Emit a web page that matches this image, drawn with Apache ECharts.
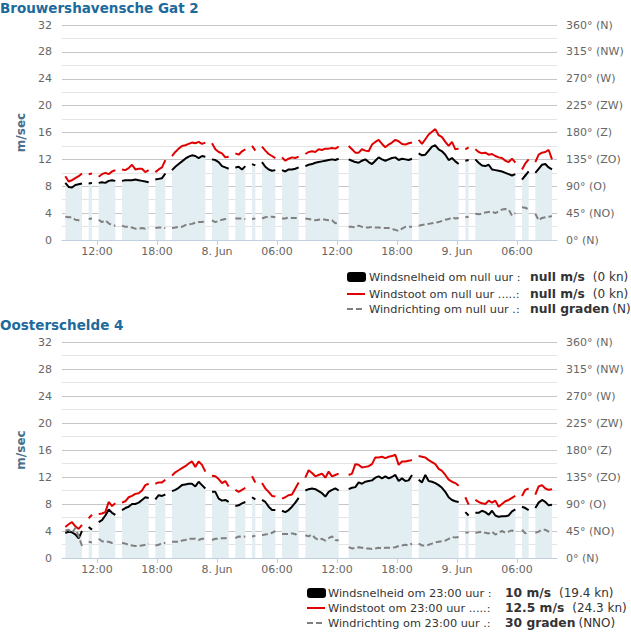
<!DOCTYPE html>
<html><head><meta charset="utf-8">
<script src="https://cdn.jsdelivr.net/npm/echarts@6/dist/echarts.min.js"></script>
<style>html,body{margin:0;padding:0;background:#fff}#c{width:631px;height:632px}</style>
</head><body><div id="c"></div>
<script>
// ---- data (hours since 7 Jun 00:00; one reading every 20 minutes, null = missing) ----
const START_HOUR = 8 + 50 / 60;   // 7 Jun 08:50
const STEP_HOUR = 1 / 3;          // 20 minutes
const X_TICKS = [12, 18, 24, 30, 36, 42, 48, 54];
const DIR_LABELS = ['0° (N)', '45° (NO)', '90° (O)', '135° (ZO)', '180° (Z)', '225° (ZW)', '270° (W)', '315° (NW)', '360° (N)'];
const STATIONS = ['Brouwershavensche Gat 2', 'Oosterschelde 4'];

// Brouwershavensche Gat 2
const BG_SPEED = [
  8.5, 7.9, 7.8, 8.2, 8.3, 8.4, null, 8.4, 8.5, null,
  8.5, 8.6, 8.5, 8.8, 8.9, 8.8, null, 8.8, 8.9, 8.9,
  8.9, 9.0, 8.9, 8.8, 8.7, 8.6, null, 9.0, 9.1, 9.2,
  9.9, null, 10.4, 10.9, 11.3, 11.7, 12.1, 12.4, 12.6, 12.5,
  12.2, 12.5, 12.4, null, 12.0, 11.9, 11.6, 11.0, 10.8, 10.6,
  null, 10.8, 10.9, 10.5, 11.0, null, 11.3, 11.1, null, 11.6,
  10.9, 10.5, 10.3, 10.4, null, 10.4, 10.2, 10.5, 10.5, 10.6,
  10.8, null, 11.0, 11.2, 11.3, 11.5, 11.6, 11.7, 11.8, 11.9,
  12.0, 11.9, 12.1, null, null, 12.0, 11.8, 11.6, 11.5, 11.8,
  12.0, 11.6, 11.3, 11.8, 12.3, 12.0, 11.8, 12.0, 12.2, 12.3,
  11.9, 12.1, 12.0, 11.9, 12.1, null, 12.9, 12.6, 12.7, 13.3,
  13.9, 14.1, 13.5, 13.2, 12.7, 11.9, 12.2, 11.7, 11.3, null,
  11.8, 11.9, null, 12.0, 11.5, 11.1, 11.0, 11.2, 10.5, 10.4,
  10.3, 10.2, 10.0, 9.8, 9.6, 9.8, null, 9.0, 9.6, 10.2,
  null, 10.0, 10.6, 11.2, 11.3, 10.8, 10.5
];
const BG_GUST = [
  9.5, 8.7, 8.9, 9.2, 9.5, 9.9, null, 9.8, 9.9, null,
  9.4, 9.8, 10.0, 9.8, 10.2, 10.4, null, 10.5, 10.4, 10.7,
  11.2, 10.5, 10.6, 10.6, 10.1, 10.4, null, 10.1, 10.5, 10.8,
  11.9, null, 12.5, 13.1, 13.6, 14.0, 14.1, 14.3, 14.5, 14.4,
  14.6, 14.3, 14.5, null, 14.4, 13.5, 13.1, 12.9, 12.3, 12.4,
  null, 12.9, 12.7, 13.2, 13.5, null, 14.0, 13.3, null, 13.9,
  13.3, 12.8, 12.5, 12.2, null, 12.3, 11.8, 12.1, 12.3, 12.2,
  12.4, null, 12.8, 13.1, 13.2, 13.1, 13.5, 13.4, 13.6, 13.6,
  13.7, 13.6, 13.9, null, null, 14.0, 13.5, 13.0, 13.0, 13.5,
  13.3, 13.2, 14.2, 14.6, 14.9, 14.3, 13.8, 14.2, 14.5, 14.9,
  14.7, 14.3, 14.2, 14.4, 14.5, null, 14.9, 14.3, 15.0, 15.7,
  16.1, 16.5, 15.6, 15.3, 14.6, 14.0, 14.6, 13.5, 13.6, null,
  13.5, 13.8, null, 13.5, 13.1, 12.9, 13.0, 12.7, 12.8, 12.5,
  12.3, 12.2, 11.8, 11.6, 12.1, 11.5, null, 10.5, 11.4, 12.0,
  null, 11.6, 12.7, 13.0, 13.1, 13.4, 12.0
];
const BG_DIR = [
  39, 38, 38, 34, 33, 30, null, 35, 36, null,
  34, 30, 33, 28, 25, 24, null, 24, 22, 22,
  21, 19, 19, 20, 19, 20, null, 20, 21, 21,
  20, null, 20, 21, 22, 22, 25, 26, 27, 29,
  30, 30, 32, null, 33, 30, 32, 34, 35, 35,
  null, 36, 36, 36, 35, null, 35, 36, null, 36,
  38, 39, 39, 38, null, 36, 36, 38, 37, 37,
  37, null, 36, 35, 34, 33, 34, 35, 34, 33,
  33, 28, 29, null, null, 22, 22, 21, 24, 22,
  21, 21, 22, 21, 21, 20, 20, 20, 18, 17,
  15, 19, 22, 22, 22, null, 24, 25, 26, 27,
  28, 29, 30, 32, 34, 35, 38, 36, 37, null,
  38, 39, null, 44, 43, 44, 46, 47, 48, 45,
  48, 51, 52, 51, 41, 45, null, 55, 54, 51,
  null, 44, 33, 37, 38, 39, 40
];

// Oosterschelde 4
const OS_SPEED = [
  3.7, 3.9, 3.8, 3.5, 2.9, 4.0, null, 4.6, 4.2, null,
  5.3, 5.6, 6.3, 7.2, 6.7, 6.4, null, 7.1, 7.4, 7.6,
  8.0, 8.0, 8.2, 8.6, 9.0, 8.9, null, 8.7, 9.3, 9.2,
  9.4, null, 9.9, 10.1, 10.4, 10.8, 10.9, 11.0, 11.0, 10.6,
  11.3, 10.8, 10.3, null, 9.8, 9.8, 8.8, 8.5, 8.6, 8.3,
  null, 7.7, 7.8, 8.1, 8.3, null, 9.0, 8.7, null, 8.6,
  8.3, 7.6, 7.1, 7.1, null, 7.0, 6.8, 7.1, 7.6, 8.2,
  8.9, null, 10.0, 10.2, 10.3, 10.2, 9.9, 9.6, 9.1, 9.8,
  10.1, 10.3, 10.0, null, null, 10.2, 10.4, 10.5, 11.2, 11.0,
  11.3, 11.4, 11.5, 11.9, 12.1, 11.8, 12.1, 11.8, 12.0, 12.3,
  11.4, 11.8, 11.4, 11.5, 12.3, null, 11.6, 11.2, 12.3, 11.4,
  11.3, 11.1, 10.8, 10.4, 9.8, 9.0, 8.6, 8.4, 8.3, null,
  6.8, 6.3, null, 6.7, 6.7, 7.0, 6.8, 6.4, 7.0, 6.3,
  6.1, 6.2, 6.2, 6.3, 6.9, 7.2, null, 7.6, 7.4, 7.1,
  null, 7.4, 8.2, 8.6, 8.3, 7.8, 7.9
];
const OS_GUST = [
  4.6, 5.0, 5.3, 4.7, 4.3, 4.9, null, 5.9, 6.4, null,
  6.5, 6.6, 6.8, 8.3, 7.7, 8.1, null, 8.2, 8.4, 9.0,
  9.2, 9.5, 9.6, 10.0, 10.8, 11.0, null, 11.0, 11.2, 11.2,
  11.6, null, 12.2, 12.7, 13.0, 13.3, 13.6, 14.0, 14.3, 13.5,
  14.3, 13.8, 12.8, null, 12.2, 12.1, 11.7, 11.1, 11.4, 10.6,
  null, 10.1, 9.8, 10.1, 10.4, null, 12.1, 11.2, null, 11.1,
  10.3, 9.8, 9.2, 9.1, null, 8.8, 9.0, 9.3, 9.4, 10.3,
  11.2, null, 11.9, 13.0, 12.6, 12.1, 12.3, 12.5, 11.9, 12.8,
  12.1, 12.3, 12.5, null, null, 12.3, 12.5, 13.9, 13.8, 13.4,
  13.5, 13.6, 13.9, 14.9, 14.9, 15.0, 14.8, 15.0, 15.1, 15.3,
  13.8, 14.3, 14.3, 14.4, 14.5, null, 15.1, 15.0, 14.9, 14.5,
  14.2, 13.9, 13.2, 12.9, 12.3, 11.6, 11.3, 11.1, 10.7, null,
  9.0, 7.9, null, 8.6, 8.3, 8.1, 8.0, 8.5, 8.2, 8.5,
  7.6, 8.0, 8.4, 8.6, 8.9, 9.2, null, 9.2, 10.1, 10.3,
  null, 9.4, 10.6, 10.8, 10.3, 10.1, 10.2
];
const OS_DIR = [
  46, 47, 42, 50, 36, 20, null, 27, 26, null,
  32, 28, 27, 27, 25, 25, null, 25, 24, 22,
  21, 20, 20, 21, 22, 24, null, 21, 22, 25,
  25, null, 27, 27, 27, 29, 30, 32, 32, 32,
  30, 32, 32, null, 30, 32, 32, 33, 33, 34,
  null, 33, 36, 35, 36, null, 36, 37, null, 38,
  39, 40, 42, 45, null, 40, 40, 40, 41, 40,
  35, null, 38, 36, 39, 33, 30, 32, 29, 33,
  36, 30, 29, null, null, 18, 16, 17, 18, 17,
  16, 16, 15, 16, 17, 16, 17, 17, 17, 18,
  20, 21, 22, 21, 24, null, 24, 21, 21, 22,
  24, 26, 27, 28, 29, 32, 35, 34, 35, null,
  42, 43, null, 42, 43, 44, 42, 41, 44, 39,
  42, 45, 42, 44, 46, 42, null, 47, 41, 44,
  null, 42, 44, 47, 47, 44, 42
];

// legend texts
const LEGEND_TEXT = [
  [
    ['Windsnelheid om null uur :', 'null m/s', '(0 kn)'],
    ['Windstoot om null uur .....:', 'null m/s', '(0 kn)'],
    ['Windrichting om null uur .:', 'null graden', '(N)']
  ],
  [
    ['Windsnelheid om 23:00 uur :', '10 m/s', '(19.4 kn)'],
    ['Windstoot om 23:00 uur .....:', '12.5 m/s', '(24.3 kn)'],
    ['Windrichting om 23:00 uur .:', '30 graden', '(NNO)']
  ]
];

// ---- layout / style ----
const FONT = '"DejaVu Sans", Verdana, sans-serif';
const LABEL_FONT = '11.3px ' + FONT;
const VALUE_FONT = 'bold 12.3px ' + FONT;
const UNIT_FONT = '12px ' + FONT;
const UNIT_GAP = [8, 8, 3];
const PANELS = [
  { top: 25, height: 215, titleY: 8,
    leg: { symX: 347, labX: 369, valX: 530, rows: [277, 294, 309] } },
  { top: 342, height: 216, titleY: 325,
    leg: { symX: 307, labX: 328, valX: 505, rows: [593, 608, 623] } }
];
const PANEL_DATA = [[BG_SPEED, BG_GUST, BG_DIR], [OS_SPEED, OS_GUST, OS_DIR]];

const measureCtx = document.createElement('canvas').getContext('2d');
function textWidth(text, font) { measureCtx.font = font; return measureCtx.measureText(text).width; }

function toPairs(arr) {
  return arr.map((v, k) => [START_HOUR + k * STEP_HOUR, v]);
}
function xLabel(v) {
  const r = Math.round(v);
  const h = r % 24;
  if (h === 0) return (7 + r / 24) + '. Jun';
  return (h < 10 ? '0' : '') + h + ':00';
}

const grid = [], xAxis = [], yAxis = [], series = [], graphic = [];
PANELS.forEach((p, i) => {
  grid.push({ left: 62, top: p.top, width: 495, height: p.height });
  xAxis.push({
    type: 'value', gridIndex: i, min: 8.5, max: 58,
    axisLine: { show: true, lineStyle: { color: '#c0d0e0', width: 1 } },
    axisTick: { show: true, customValues: X_TICKS, length: 5, lineStyle: { color: '#c0d0e0' } },
    axisLabel: { customValues: X_TICKS, formatter: xLabel, color: '#666', fontSize: 11, fontFamily: FONT, margin: 6 },
    splitLine: { show: false }
  });
  yAxis.push({
    type: 'value', gridIndex: i, min: 0, max: 32, interval: 4, position: 'left',
    name: 'm/sec', nameLocation: 'middle', nameGap: 31,
    nameTextStyle: { color: '#4a6f8a', fontWeight: 'bold', fontSize: 12, fontFamily: FONT },
    axisLine: { show: false }, axisTick: { show: false },
    axisLabel: { color: '#666', fontSize: 11, fontFamily: FONT, margin: 10 },
    splitLine: { show: true, lineStyle: { color: '#c6c6c6', width: 1 } },
    minorTick: { show: false, splitNumber: 2 },
    minorSplitLine: { show: true, lineStyle: { color: '#e4e4e4', width: 1 } }
  });
  yAxis.push({
    type: 'value', gridIndex: i, min: 0, max: 360, interval: 45, position: 'right',
    axisLine: { show: false }, axisTick: { show: false },
    axisLabel: { color: '#666', fontSize: 11, fontFamily: FONT, margin: 9,
      formatter: v => DIR_LABELS[Math.round(v / 45)] },
    splitLine: { show: false }
  });
  const [spd, gust, dir] = PANEL_DATA[i];
  series.push({
    type: 'line', xAxisIndex: i, yAxisIndex: 2 * i, data: toPairs(spd),
    symbol: 'none', showSymbol: false, connectNulls: false, silent: true,
    lineStyle: { color: '#000', width: 2 }, itemStyle: { color: '#000' },
    areaStyle: { color: '#e3eef2', opacity: 1 }, z: 2
  });
  series.push({
    type: 'line', xAxisIndex: i, yAxisIndex: 2 * i, data: toPairs(gust),
    symbol: 'none', showSymbol: false, connectNulls: false, silent: true,
    lineStyle: { color: '#e00000', width: 2 }, itemStyle: { color: '#e00000' }, z: 3
  });
  series.push({
    type: 'line', xAxisIndex: i, yAxisIndex: 2 * i + 1, data: toPairs(dir),
    symbol: 'none', showSymbol: false, connectNulls: false, silent: true,
    lineStyle: { color: '#808080', width: 2, type: [6, 3] }, itemStyle: { color: '#808080' }, z: 3
  });

  // title
  graphic.push({ type: 'text', x: 0, y: p.titleY, silent: true,
    style: { text: STATIONS[i], fill: '#1d6a9c', font: 'bold 13.5px ' + FONT,
      align: 'left', verticalAlign: 'middle', textAlign: 'left', textVerticalAlign: 'middle' } });

  // legend
  const L = p.leg;
  LEGEND_TEXT[i].forEach((row, r) => {
    const y = L.rows[r];
    if (r === 0) {
      graphic.push({ type: 'rect', silent: true, shape: { x: L.symX, y: y - 5, width: 19, height: 10, r: 3 }, style: { fill: '#000' } });
    } else if (r === 1) {
      graphic.push({ type: 'line', silent: true, shape: { x1: L.symX, y1: y, x2: L.symX + 18, y2: y }, style: { stroke: '#e00000', lineWidth: 2 } });
    } else {
      graphic.push({ type: 'line', silent: true, shape: { x1: L.symX, y1: y, x2: L.symX + 18, y2: y }, style: { stroke: '#808080', lineWidth: 2, lineDash: [6, 3] } });
    }
    const mk = (x, text, font) => ({ type: 'text', x: x, y: y, silent: true,
      style: { text: text, fill: '#333', font: font, align: 'left', verticalAlign: 'middle', textAlign: 'left', textVerticalAlign: 'middle' } });
    graphic.push(mk(L.labX, row[0], LABEL_FONT));
    graphic.push(mk(L.valX, row[1], VALUE_FONT));
    const unitX = L.valX + textWidth(row[1], VALUE_FONT) + UNIT_GAP[r];
    graphic.push(mk(unitX, row[2], UNIT_FONT));
  });
});

const chart = echarts.init(document.getElementById('c'), null, { renderer: 'svg' });
chart.setOption({
  backgroundColor: '#fff',
  animation: false,
  grid, xAxis, yAxis, series, graphic
});
</script>
</body></html>
